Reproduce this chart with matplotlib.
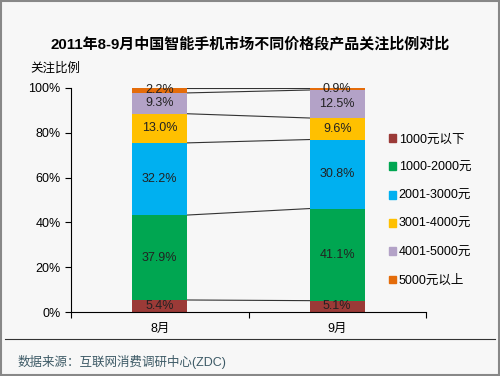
import numpy as np
import matplotlib
matplotlib.use("Agg")
from matplotlib import pyplot as plt

plt.rcParams['font.family'] = ['Liberation Sans', 'Noto Sans CJK SC', 'DejaVu Sans']

months = ["8月", "9月"]
segments = ["1000元以下", "1000-2000元", "2001-3000元", "3001-4000元", "4001-5000元", "5000元以上"]
aug = [5.4, 37.9, 32.2, 13.0, 9.3, 2.2]
sep = [5.1, 41.1, 30.8, 9.6, 12.5, 0.9]
colors = ["#9b3a37", "#00a651", "#00b0f0", "#ffc000", "#b3a2c7", "#e46c0a"]

fig = plt.figure(figsize=(5.0, 3.76), dpi=100)
fig.patch.set_facecolor("#f7f7f7")
ax = fig.add_axes([0.142, 0.170, 0.710, 0.596])
ax.set_facecolor("#f7f7f7")

x = np.arange(len(months))
w = 0.31
vals = np.array([aug, sep])
bottoms = np.zeros(2)
for i, seg in enumerate(segments):
    ax.bar(x, vals[:, i], w, bottom=bottoms, color=colors[i], label=seg, zorder=2)
    for j in range(2):
        ax.text(x[j], bottoms[j] + vals[j, i] / 2, "%.1f%%" % vals[j, i],
                ha="center", va="center", fontsize=9, color="#222222", zorder=3)
    bottoms = bottoms + vals[:, i]

# connector lines between the bars
cum = np.cumsum(vals, axis=1)
for k in range(len(segments)):
    ax.plot([x[0] + w / 2, x[1] - w / 2], [cum[0, k], cum[1, k]], color="#333333", lw=0.8, zorder=1)

ax.set_xlim(-0.5, 1.5)
ax.set_ylim(0, 100)
ax.set_yticks(np.arange(0, 101, 20))
ax.set_yticklabels(["%d%%" % v for v in range(0, 101, 20)], fontsize=9)
ax.set_xticks([-0.5, 0.5, 1.5])
ax.set_xticklabels([])
ax.set_xticks(x, minor=True)
ax.set_xticklabels(months, minor=True, fontsize=9)
ax.tick_params(axis="x", which="minor", length=0, pad=8)
ax.tick_params(axis="x", which="major", length=4, direction="out")
ax.tick_params(axis="y", length=4, direction="out")
for s in ["top", "right"]:
    ax.spines[s].set_visible(False)

handles = [plt.Rectangle((0, 0), 1, 1, color=c) for c in colors]
fig.legend(handles, segments, loc="upper left", bbox_to_anchor=(0.755, 0.675),
           frameon=False, fontsize=9, handlelength=0.6, handleheight=0.6,
           handletextpad=0.2, labelspacing=1.3)

fig.text(0.5, 0.882, "2011年8-9月中国智能手机市场不同价格段产品关注比例对比",
         ha="center", va="center", fontsize=10.8, fontweight="bold")
fig.text(0.06, 0.818, "关注比例", ha="left", va="center", fontsize=9)
fig.add_artist(plt.Line2D([0.01, 0.99], [0.098, 0.098], color="#333333", lw=0.8))
fig.text(0.036, 0.037, "数据来源：互联网消费调研中心(ZDC)", ha="left", va="center",
         fontsize=9, color="#3d5a66")
fig.add_artist(plt.Rectangle((0.002, 0.003), 0.996, 0.994, fill=False, ec="#888888", lw=1.5))

fig.savefig("out.png", dpi=100, facecolor=fig.get_facecolor())
